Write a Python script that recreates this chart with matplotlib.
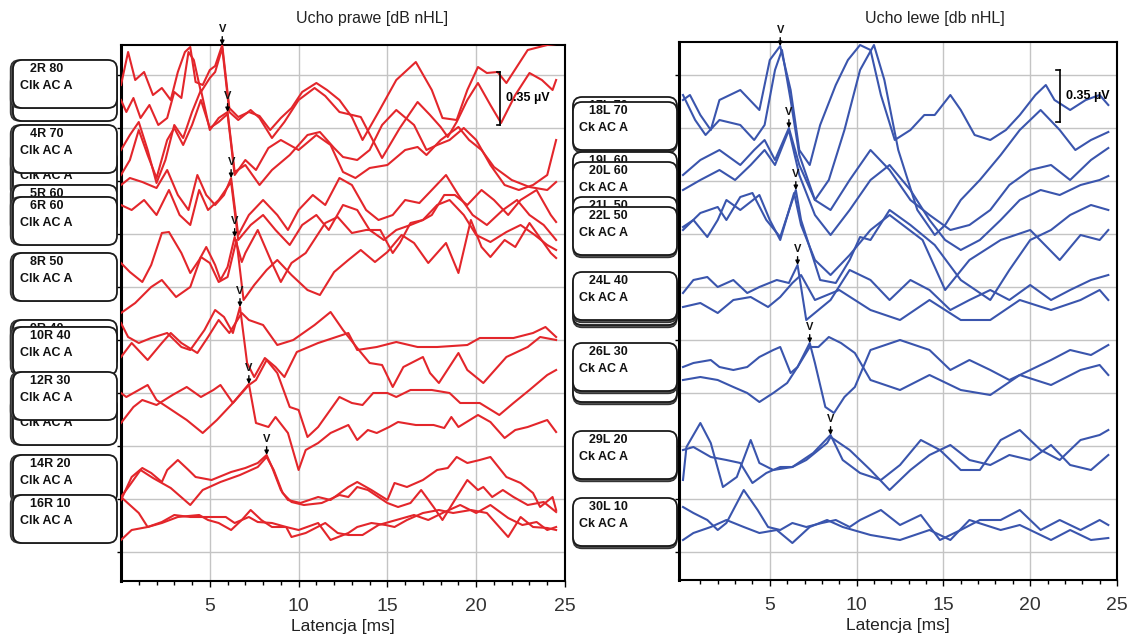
import numpy as np
import matplotlib
matplotlib.use('Agg')
import matplotlib.pyplot as plt
from matplotlib.patches import FancyBboxPatch
from matplotlib.transforms import IdentityTransform

# amplitudes in raw display units, 53 units = 0.35 uV (one grid division)
# ---- right ear (Ucho prawe), two replicate sweeps per level ----
p80a_t = [0, 0.4, 0.8, 1.3, 1.8, 2.3, 2.8, 3.2, 3.6, 3.9, 4.2, 4.6, 5.0, 5.3, 5.7, 6.1, 6.6, 7.2, 7.8, 8.4, 9.0, 9.6, 10.2, 11.0, 11.6, 12.3, 13.0, 13.6, 14.5, 15.5, 16.6, 17.5, 18.1, 18.9, 19.5, 20.1, 20.6, 21.2, 21.7, 22.9, 24.0, 24.5]
p80a = [496, 529, 501, 509, 486, 493, 481, 509, 529, 534, 499, 496, 511, 515, 536, 473, 464, 469, 465, 451, 463, 473, 489, 498, 491, 481, 464, 441, 469, 501, 519, 491, 463, 461, 491, 514, 508, 509, 498, 531, 536, 537]
p80b_t = [0, 0.3, 0.7, 1.1, 1.6, 2.1, 2.6, 3.0, 3.4, 3.8, 4.1, 4.5, 5.0, 5.3, 5.7, 6.1, 6.6, 7.3, 7.8, 8.5, 9.2, 10.0, 10.9, 11.5, 12.3, 13.5, 14.7, 15.7, 16.7, 17.4, 18.0, 18.4, 18.9, 19.5, 20.1, 20.8, 21.4, 22.2, 23.0, 23.7, 24.3, 24.5]
p80b = [481, 469, 483, 463, 476, 456, 463, 489, 483, 529, 521, 489, 503, 509, 533, 469, 461, 471, 463, 443, 459, 481, 493, 485, 469, 464, 423, 453, 479, 466, 454, 444, 459, 481, 498, 476, 458, 486, 508, 501, 491, 501]
p70a_t = [0, 0.5, 1.0, 1.5, 2.0, 2.5, 3.0, 3.5, 4.0, 4.5, 5.0, 5.5, 6.0, 6.4, 7.0, 7.8, 8.5, 9.5, 10.5, 11.2, 12.0, 12.5, 13.3, 14.0, 14.7, 15.5, 16.5, 17.2, 17.8, 18.5, 19.3, 20.0, 20.8, 21.6, 22.4, 23.2, 24.0, 24.5]
p70a = [431, 446, 459, 431, 398, 421, 456, 443, 469, 491, 451, 463, 469, 409, 416, 396, 411, 426, 446, 449, 433, 424, 421, 431, 456, 471, 456, 431, 436, 441, 453, 441, 416, 396, 391, 396, 406, 441]
p70b_t = [0, 0.5, 1.0, 1.5, 2.0, 2.6, 3.0, 3.5, 4.0, 4.5, 5.0, 5.5, 6.0, 6.4, 7.0, 7.6, 8.3, 9.0, 10.0, 11.0, 11.8, 12.5, 13.2, 14.0, 15.0, 16.0, 16.7, 17.2, 18.0, 19.0, 19.6, 20.3, 21.0, 22.0, 23.0, 24.0, 24.5]
p70b = [406, 421, 451, 426, 403, 441, 453, 436, 456, 481, 453, 459, 467, 406, 421, 411, 433, 441, 431, 446, 436, 409, 403, 413, 416, 431, 434, 426, 441, 454, 441, 431, 414, 401, 394, 391, 399]
p60a_t = [0, 0.5, 1.2, 2.0, 2.6, 3.2, 3.8, 4.3, 4.8, 5.3, 5.8, 6.2, 6.6, 7.2, 8.0, 8.8, 9.4, 10.0, 10.8, 11.5, 12.3, 13.0, 13.8, 14.5, 15.3, 16.0, 16.8, 17.5, 18.3, 19.0, 19.8, 20.6, 21.5, 22.3, 23.0, 23.8, 24.5]
p60a = [396, 403, 399, 393, 411, 386, 371, 406, 386, 376, 386, 403, 346, 366, 381, 366, 351, 371, 386, 376, 403, 396, 371, 361, 366, 381, 378, 391, 406, 386, 366, 356, 371, 381, 366, 356, 341]
p60b_t = [0, 0.6, 1.3, 2.0, 2.7, 3.3, 3.9, 4.4, 4.9, 5.5, 6.2, 6.6, 7.3, 8.0, 8.7, 9.5, 10.2, 11.0, 11.7, 12.5, 13.3, 14.0, 14.8, 15.5, 16.3, 17.0, 17.8, 18.5, 19.3, 20.0, 20.8, 21.7, 22.5, 23.3, 24.0, 24.5]
p60b = [376, 371, 381, 366, 391, 366, 356, 391, 371, 381, 399, 341, 356, 366, 351, 336, 356, 366, 351, 376, 371, 351, 341, 351, 356, 361, 376, 381, 366, 346, 339, 349, 356, 346, 336, 331]
p50a_t = [0, 0.5, 1.2, 1.7, 2.3, 2.7, 3.4, 3.9, 4.4, 4.8, 5.3, 5.6, 6.0, 6.4, 6.8, 7.0, 7.7, 8.5, 9.0, 9.6, 10.4, 11.5, 12.2, 13.0, 13.8, 14.6, 15.3, 15.7, 16.3, 17.0, 17.5, 18.2, 18.8, 19.5, 20.3, 21.0, 21.8, 22.5, 23.4, 24.2, 24.5]
p50a = [318, 309, 299, 316, 348, 349, 328, 308, 321, 334, 316, 301, 314, 344, 319, 328, 351, 318, 299, 318, 328, 358, 364, 348, 351, 351, 328, 338, 358, 361, 366, 386, 386, 376, 391, 381, 366, 381, 391, 366, 359]
p50b_t = [0, 0.8, 1.7, 2.3, 3.1, 3.9, 4.5, 5.0, 5.5, 6.0, 6.5, 6.9, 7.5, 8.2, 8.8, 9.6, 10.5, 11.2, 12.0, 12.8, 13.5, 14.3, 15.0, 15.8, 16.5, 17.3, 18.3, 19.0, 19.7, 20.3, 20.8, 21.6, 22.2, 23.0, 24.2, 24.5]
p50b = [268, 278, 294, 301, 284, 294, 324, 318, 299, 304, 341, 281, 296, 311, 321, 306, 291, 286, 309, 321, 331, 319, 329, 346, 338, 318, 338, 308, 361, 334, 324, 341, 334, 358, 328, 323]
p40a_t = [0, 0.4, 1.0, 1.7, 2.6, 3.4, 3.9, 4.7, 5.3, 5.8, 6.3, 6.7, 7.1, 7.5, 8.1, 8.7, 9.2, 9.9, 11.1, 12.8, 13.3, 14.4, 15.5, 16.7, 17.8, 19.5, 20.2, 22.1, 23.2, 23.9, 24.5]
p40a = [258, 244, 238, 243, 248, 234, 231, 251, 271, 264, 248, 274, 218, 204, 223, 214, 204, 229, 238, 248, 231, 234, 239, 234, 234, 236, 243, 243, 248, 254, 244]
p40b_t = [0, 0.6, 1.5, 2.3, 2.8, 3.4, 4.3, 4.9, 5.5, 6.1, 6.8, 7.2, 8.0, 8.8, 9.7, 10.9, 11.8, 12.5, 13.3, 14.0, 14.7, 15.3, 15.9, 17.0, 17.4, 17.9, 19.0, 19.5, 20.4, 21.7, 22.9, 23.6, 24.5]
p40b = [224, 238, 221, 238, 248, 238, 228, 244, 261, 248, 268, 261, 256, 236, 241, 256, 269, 251, 233, 218, 216, 194, 214, 224, 208, 198, 228, 211, 198, 224, 234, 244, 241]
p30a_t = [0, 0.3, 1.5, 2.0, 2.6, 3.7, 4.6, 5.4, 6.3, 7.2, 7.6, 8.3, 8.7, 9.4, 10.0, 10.4, 11.1, 11.8, 12.8, 13.3, 13.9, 14.4, 15.1, 15.6, 16.6, 17.6, 18.2, 18.6, 19.0, 20.1, 20.8, 21.6, 22.2, 22.9, 24.0, 24.5]
p30a = [188, 184, 196, 181, 174, 161, 148, 161, 178, 197, 158, 154, 164, 148, 111, 131, 138, 148, 156, 141, 151, 148, 154, 159, 156, 156, 153, 164, 154, 166, 159, 143, 151, 154, 161, 149]
p30b_t = [0, 0.7, 1.2, 2.0, 2.9, 3.7, 4.5, 5.2, 5.6, 6.3, 7.2, 7.6, 8.2, 8.8, 9.5, 10.0, 10.5, 11.1, 12.3, 13.0, 13.6, 14.2, 15.0, 15.5, 16.3, 17.5, 18.5, 19.1, 20.2, 21.3, 22.1, 23.0, 24.0, 24.5]
p30b = [158, 174, 181, 176, 186, 194, 184, 191, 196, 178, 196, 201, 221, 208, 174, 171, 144, 154, 184, 178, 176, 188, 188, 184, 191, 191, 188, 178, 178, 166, 178, 191, 206, 211]
p20a_t = [0, 0.6, 1.2, 1.7, 2.3, 2.6, 3.2, 3.8, 4.2, 5.1, 6.2, 7.0, 7.7, 8.2, 8.5, 9.0, 9.4, 10.1, 11.1, 11.8, 12.8, 13.3, 14.1, 15.0, 15.4, 16.1, 17.0, 17.8, 18.4, 18.9, 19.5, 20.2, 20.8, 21.7, 22.5, 23.2, 23.6, 24.3, 24.5]
p20a = [81, 104, 113, 108, 99, 111, 121, 111, 104, 101, 109, 113, 118, 126, 114, 91, 81, 78, 84, 81, 94, 99, 91, 81, 98, 94, 101, 111, 113, 124, 118, 121, 124, 104, 98, 88, 74, 84, 71]
p20b_t = [0, 0.5, 1.1, 1.8, 2.8, 3.9, 4.6, 5.6, 6.7, 7.7, 8.2, 8.6, 9.1, 9.6, 10.3, 11.3, 12.3, 12.8, 13.3, 13.9, 15.0, 15.6, 16.3, 16.9, 17.6, 18.1, 18.9, 19.5, 20.1, 20.4, 20.9, 21.5, 22.1, 22.9, 23.8, 24.5]
p20b = [84, 96, 111, 103, 93, 76, 91, 99, 106, 114, 124, 111, 88, 79, 76, 78, 86, 84, 94, 91, 78, 74, 78, 91, 74, 61, 84, 101, 91, 94, 84, 91, 84, 76, 79, 69]
p10a_t = [0, 0.6, 1.5, 2.3, 3.2, 4.4, 4.9, 5.5, 6.2, 6.8, 7.3, 7.9, 8.5, 9.3, 10.0, 11.1, 11.8, 12.8, 13.3, 14.1, 14.9, 15.4, 16.1, 17.0, 17.9, 18.7, 19.7, 20.6, 21.8, 22.5, 23.2, 24.0, 24.5]
p10a = [41, 51, 54, 58, 64, 66, 61, 58, 51, 61, 71, 61, 54, 54, 51, 58, 41, 48, 54, 58, 56, 54, 61, 68, 71, 68, 71, 68, 44, 64, 54, 53, 51]
p10b_t = [0, 1.0, 1.5, 2.3, 3.0, 3.9, 5.0, 5.9, 6.4, 7.2, 7.7, 8.5, 9.3, 9.6, 10.4, 11.5, 12.2, 12.8, 13.6, 14.5, 15.5, 16.5, 17.3, 18.1, 19.1, 20.0, 20.8, 21.8, 22.6, 23.4, 24.0, 24.5]
p10b = [84, 68, 54, 59, 66, 64, 64, 64, 58, 64, 59, 58, 54, 44, 48, 58, 48, 46, 46, 56, 61, 66, 61, 68, 76, 68, 76, 63, 56, 59, 51, 54]

# ---- left ear (Ucho lewe) ----
l70a_t = [0, 0.4, 1.0, 1.6, 2.1, 3.3, 4.4, 5.0, 5.6, 6.2, 6.7, 7.3, 7.9, 8.8, 9.5, 10.2, 10.8, 11.4, 12.2, 13.1, 13.9, 14.5, 15.4, 16.0, 16.8, 17.7, 18.6, 19.4, 20.3, 20.9, 21.4, 22.3, 23.2, 24.0, 24.5]
l70a = [481, 486, 466, 451, 481, 491, 471, 521, 535, 491, 431, 416, 456, 496, 521, 536, 531, 486, 441, 451, 466, 466, 486, 471, 446, 441, 451, 466, 486, 496, 481, 471, 481, 486, 476]
l70b_t = [0, 0.7, 1.3, 2.1, 3.3, 4.1, 4.7, 5.3, 5.7, 6.2, 6.7, 7.6, 8.4, 9.3, 10.2, 11.0, 11.6, 12.4, 13.5, 14.5, 15.1, 16.0, 17.1, 18.3, 19.4, 20.6, 21.7, 22.6, 23.5, 24.5]
l70b = [486, 461, 446, 461, 456, 441, 456, 511, 531, 481, 426, 381, 401, 451, 511, 536, 501, 431, 371, 346, 356, 381, 401, 426, 451, 471, 451, 431, 441, 449]
l60a_t = [0, 1.0, 2.1, 3.3, 4.1, 4.7, 5.3, 6.1, 6.7, 7.6, 8.5, 9.6, 10.8, 11.9, 13.1, 14.2, 15.4, 16.5, 17.7, 18.8, 20.0, 21.2, 22.3, 23.5, 24.5]
l60a = [406, 421, 431, 416, 431, 441, 421, 453, 416, 381, 371, 401, 431, 411, 381, 366, 351, 356, 371, 396, 411, 416, 401, 421, 433]
l60b_t = [0, 1.0, 2.1, 3.0, 3.9, 4.7, 5.3, 6.1, 6.7, 7.6, 8.5, 9.6, 10.8, 11.9, 13.1, 14.2, 15.1, 16.0, 17.1, 18.3, 19.4, 20.6, 21.7, 22.9, 24.0, 24.5]
l60b = [391, 401, 411, 401, 416, 431, 416, 451, 406, 366, 346, 371, 401, 416, 391, 361, 341, 331, 341, 361, 381, 391, 386, 396, 401, 405]
l50a_t = [0, 1.0, 2.0, 2.5, 3.3, 4.0, 4.8, 5.6, 6.5, 6.8, 7.9, 8.8, 9.6, 10.2, 10.8, 11.9, 13.1, 14.5, 16.0, 17.7, 18.8, 20.0, 21.2, 22.3, 23.5, 24.5]
l50a = [351, 368, 374, 361, 384, 388, 361, 344, 391, 361, 301, 298, 321, 344, 341, 371, 356, 336, 301, 281, 311, 341, 351, 366, 376, 371]
l50b_t = [0, 0.6, 1.4, 2.0, 2.5, 3.3, 4.4, 5.0, 5.6, 6.4, 6.8, 7.6, 8.5, 9.6, 10.8, 11.9, 13.8, 15.1, 16.5, 18.3, 20.0, 21.7, 22.9, 24.0, 24.5]
l50b = [354, 361, 344, 361, 381, 371, 386, 361, 341, 388, 356, 321, 306, 326, 351, 366, 341, 291, 321, 341, 351, 321, 346, 341, 351]
l40a_t = [0, 0.6, 1.4, 2.0, 2.9, 3.7, 4.4, 5.4, 6.1, 6.6, 7.1, 8.5, 9.6, 10.8, 11.9, 13.1, 14.2, 15.4, 16.5, 17.7, 18.8, 20.0, 21.2, 22.3, 23.5, 24.5]
l40a = [288, 301, 304, 294, 301, 288, 294, 301, 298, 316, 261, 281, 311, 301, 281, 301, 291, 271, 281, 291, 281, 296, 281, 291, 301, 306]
l40b_t = [0, 1.0, 2.0, 2.9, 3.9, 4.9, 5.6, 6.3, 6.8, 7.6, 9.0, 10.8, 12.5, 14.2, 16.0, 17.7, 19.4, 21.2, 22.9, 24.0, 24.5]
l40b = [274, 278, 268, 281, 284, 274, 284, 298, 306, 281, 291, 271, 261, 281, 261, 261, 281, 271, 281, 291, 281]
l30a_t = [0, 0.6, 1.6, 2.1, 2.9, 3.7, 4.4, 5.2, 5.6, 6.2, 6.6, 7.3, 7.6, 8.2, 8.7, 9.3, 9.9, 10.8, 12.5, 14.2, 15.4, 16.5, 17.7, 18.8, 20.0, 21.2, 22.3, 23.5, 24.5]
l30a = [214, 218, 221, 214, 211, 214, 224, 231, 234, 208, 214, 238, 218, 174, 168, 184, 194, 231, 241, 231, 211, 221, 211, 201, 211, 221, 231, 226, 236]
l30b_t = [0, 1.0, 2.0, 2.9, 3.7, 4.4, 5.2, 6.0, 6.6, 7.3, 7.8, 8.4, 9.1, 9.9, 10.8, 12.5, 14.2, 16.0, 17.7, 19.4, 21.2, 22.9, 24.0, 24.5]
l30b = [201, 204, 201, 194, 188, 179, 188, 198, 214, 234, 234, 244, 238, 228, 201, 191, 206, 191, 186, 206, 196, 211, 216, 206]
l20a_t = [0, 0.2, 1.0, 1.6, 2.3, 3.1, 3.9, 4.4, 5.2, 6.3, 7.5, 8.5, 9.2, 10.2, 11.4, 12.5, 13.7, 14.8, 16.0, 17.1, 18.3, 19.4, 20.6, 21.7, 22.9, 24.0, 24.5]
l20a = [101, 134, 158, 138, 94, 104, 141, 118, 111, 114, 128, 146, 121, 108, 101, 116, 141, 131, 111, 111, 141, 151, 131, 121, 141, 146, 151]
l20b_t = [0, 0.6, 1.6, 2.5, 3.3, 4.0, 4.8, 5.6, 6.3, 7.1, 8.3, 8.5, 9.6, 10.8, 11.9, 13.1, 14.2, 15.4, 16.5, 17.7, 18.8, 20.0, 21.2, 22.3, 23.5, 24.5]
l20b = [131, 134, 124, 121, 118, 98, 108, 114, 114, 121, 138, 144, 131, 111, 91, 111, 126, 136, 121, 116, 126, 121, 136, 116, 111, 126]
l10a_t = [0, 0.6, 1.4, 2.0, 2.5, 3.5, 4.3, 4.9, 5.6, 6.3, 7.1, 8.0, 8.8, 9.6, 10.2, 11.4, 12.5, 13.7, 14.8, 16.0, 17.1, 18.3, 19.4, 20.6, 21.7, 22.9, 24.0, 24.5]
l10a = [74, 68, 61, 51, 58, 91, 71, 54, 51, 58, 54, 58, 61, 54, 61, 71, 56, 66, 41, 51, 61, 61, 71, 51, 61, 51, 61, 56]
l10b_t = [0, 0.6, 1.6, 2.5, 3.5, 4.4, 5.4, 6.3, 7.3, 8.3, 9.2, 10.8, 12.5, 14.2, 15.4, 16.5, 18.3, 19.4, 21.2, 22.3, 23.5, 24.5]
l10b = [41, 48, 54, 61, 54, 48, 51, 38, 54, 61, 54, 46, 41, 51, 41, 61, 51, 56, 41, 51, 41, 43]

# wave V latencies (ms), marked on the first sweep of each level
right_v_lat = [5.7, 6.0, 6.2, 6.4, 6.7, 7.2, 8.2]
left_v_lat = [5.6, 6.1, 6.5, 6.6, 7.3, 8.5]

# label boxes: (channel, top row in px); later entries are drawn on top
right_boxes = [('1R 80', 73), ('2R 80', 60), ('3R 70', 150), ('4R 70', 125),
               ('5R 60', 185), ('6R 60', 197), ('8R 50', 253), ('9R 40', 320),
               ('10R 40', 327), ('11R 30', 397), ('12R 30', 372), ('14R 20', 455),
               ('16R 10', 495)]
left_boxes = [('17L 70', 97), ('18L 70', 102), ('19L 60', 152), ('20L 60', 162),
              ('21L 50', 197), ('22L 50', 207), ('23L 40', 277), ('24L 40', 272),
              ('25L 30', 354), ('26L 30', 343), ('29L 20', 431), ('30L 10', 498)]

RED = '#e3262b'
BLUE = '#3a55ad'
GRID_Y = [29 + 53 * k for k in range(10)]
SANS = 'Liberation Sans'

fig = plt.figure(figsize=(11.4, 6.35), dpi=100)
W, H = 1140, 635


def px_axes(x0, y_top, x1, y_bot):
    return fig.add_axes([x0 / W, (H - y_bot) / H, (x1 - x0) / W, (y_bot - y_top) / H])


def style(ax, ylim, xlim):
    ax.set_xlim(*xlim)
    ax.set_ylim(*ylim)
    ax.set_xticks([5, 10, 15, 20, 25])
    ax.set_xticks(np.arange(1, 25), minor=True)
    ax.set_yticks(GRID_Y)
    ax.set_yticklabels([])
    for x in [5, 10, 15, 20]:
        ax.axvline(x, color='#c4c4c4', lw=1, zorder=0)
    for y in GRID_Y:
        ax.axhline(y, color='#c4c4c4', lw=1, zorder=0)
    ax.tick_params(axis='x', which='major', length=4, width=1, direction='out',
                   labelsize=14, labelcolor='#333333', pad=8)
    ax.tick_params(axis='x', which='minor', length=3, width=1, direction='out')
    ax.tick_params(axis='y', length=3, width=1, direction='out')
    for lab in ax.get_xticklabels():
        lab.set_family(SANS)
    for s in ax.spines.values():
        s.set_linewidth(1.5)
    ax.spines['left'].set_linewidth(2.2)
    ax.set_xlabel('Latencja [ms]', fontsize=12.5, family=SANS, color='#222222', labelpad=3)


def mark_v(ax, lats, traces):
    for lat, (t, v) in zip(lats, traces):
        amp = np.interp(lat, t, v)
        ax.annotate('V', xy=(lat, amp), xytext=(0, 8), textcoords='offset points',
                    ha='center', va='bottom', fontsize=8, fontweight='bold',
                    family=SANS, color='#111111',
                    arrowprops=dict(arrowstyle='-|>', color='black', lw=1,
                                    mutation_scale=6, shrinkA=0, shrinkB=0),
                    annotation_clip=False, zorder=5)


def scale_bar(ax, x, y0, y1):
    ax.plot([x, x], [y0, y1], color='black', lw=1.2, zorder=4)
    ax.plot([x - 0.2, x], [y0, y0], color='black', lw=1.2, zorder=4)
    ax.plot([x - 0.2, x], [y1, y1], color='black', lw=1.2, zorder=4)
    ax.text(x + 0.35, (y0 + y1) / 2, '0.35 µV', fontsize=9, fontweight='bold',
            family=SANS, va='center', ha='left', zorder=4, clip_on=False)


def boxes(items, x0, dx1, dx2, second, shadow):
    for i, (name, top) in enumerate(items):
        z = 10 + 3 * i
        yb = H - top - 48
        fig.add_artist(FancyBboxPatch((x0 + shadow[0], yb + shadow[1]), 104, 48,
                                      boxstyle='round,pad=0,rounding_size=9',
                                      transform=IdentityTransform(), fc='#555555',
                                      ec='#333333', lw=1, zorder=z))
        fig.add_artist(FancyBboxPatch((x0, yb), 104, 48,
                                      boxstyle='round,pad=0,rounding_size=9',
                                      transform=IdentityTransform(), fc='white',
                                      ec='#1a1a1a', lw=1.3, zorder=z + 1))
        fig.text(x0 + dx1, H - top - 9, name, transform=IdentityTransform(),
                 fontsize=9, fontweight='bold', family=SANS, zorder=z + 2,
                 va='center', ha='left', color='#111111')
        fig.text(x0 + dx2, H - top - 26, second, transform=IdentityTransform(),
                 fontsize=9, fontweight='bold', family=SANS, zorder=z + 2,
                 va='center', ha='left', color='#111111')


# ---- right ear panel ----
axr = px_axes(121, 45, 565, 581)
style(axr, (0, 536), (0, 25))
p_traces = [(p80a_t, p80a), (p80b_t, p80b), (p70a_t, p70a), (p70b_t, p70b),
            (p60a_t, p60a), (p60b_t, p60b), (p50a_t, p50a), (p50b_t, p50b),
            (p40a_t, p40a), (p40b_t, p40b), (p30a_t, p30a), (p30b_t, p30b),
            (p20a_t, p20a), (p20b_t, p20b), (p10a_t, p10a), (p10b_t, p10b)]
for t, v in p_traces:
    axr.plot(t, v, color=RED, lw=1.5, zorder=3)
mark_v(axr, right_v_lat, p_traces[0::2])
scale_bar(axr, 21.35, 456, 509)
fig.text(372 / W, 1 - 18 / H, 'Ucho prawe [dB nHL]', ha='center', va='center',
         fontsize=11.5, family=SANS, color='#222222')

# ---- left ear panel ----
axl = px_axes(679, 42, 1117, 580)
style(axl, (1, 539), (-0.23, 25))
l_traces = [(l70a_t, l70a), (l70b_t, l70b), (l60a_t, l60a), (l60b_t, l60b),
            (l50a_t, l50a), (l50b_t, l50b), (l40a_t, l40a), (l40b_t, l40b),
            (l30a_t, l30a), (l30b_t, l30b), (l20a_t, l20a), (l20b_t, l20b),
            (l10a_t, l10a), (l10b_t, l10b)]
for t, v in l_traces:
    axl.plot(t, v, color=BLUE, lw=1.5, zorder=3)
mark_v(axl, left_v_lat, l_traces[0::2])
scale_bar(axl, 21.7, 459, 511)
fig.text(935 / W, 1 - 18 / H, 'Ucho lewe [db nHL]', ha='center', va='center',
         fontsize=11.5, family=SANS, color='#222222')

boxes(right_boxes, 13, 17, 7, 'Clk AC A', (-2.5, 0))
boxes(left_boxes, 573, 16, 6, 'Ck AC A', (0, -2.5))

fig.savefig('out.png', dpi=100, facecolor='white')
